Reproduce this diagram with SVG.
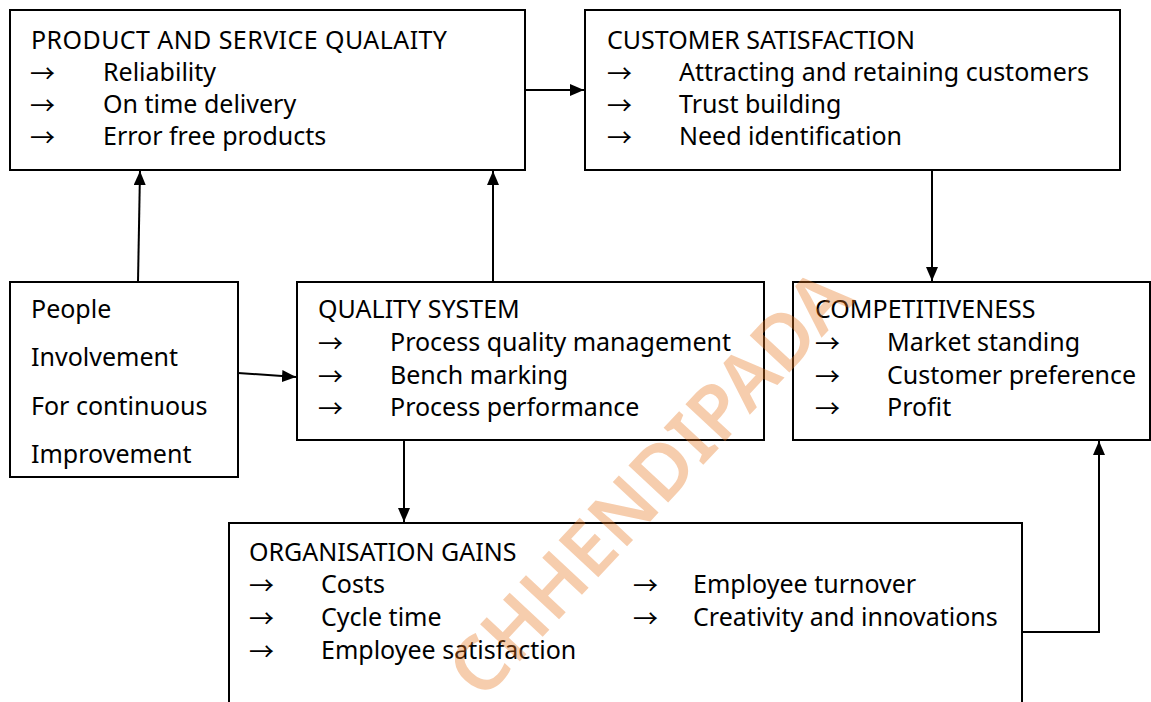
<svg xmlns="http://www.w3.org/2000/svg" width="1151" height="702" viewBox="0 0 1151 702">
<defs>
<marker id="ah" markerUnits="userSpaceOnUse" markerWidth="15" markerHeight="13" refX="14" refY="6" orient="auto">
<path d="M0,0 L14,6 L0,12 z" fill="#000"/>
</marker>
<style>
.box{fill:#fff;stroke:#000;stroke-width:2}
.t{font-family:"Noto Sans","DejaVu Sans",sans-serif;font-size:25px;fill:#000}
.ar{font-family:"Noto Sans CJK JP","DejaVu Sans",sans-serif;font-size:25px;fill:#000}
.con{fill:none;stroke:#000;stroke-width:2;marker-end:url(#ah)}
.wm{font-family:"Noto Sans","DejaVu Sans",sans-serif;font-size:76px;font-weight:600;fill:#E8761E;opacity:0.36}
</style>
</defs>
<rect width="1151" height="702" fill="#fff"/>
<g id="product-quality">
<rect class="box" x="10" y="10" width="515" height="160"/>
<text class="t" x="31" y="49" textLength="416">PRODUCT AND SERVICE QUALAITY</text>
<text class="ar" x="30" y="83">→</text><text class="t" x="103" y="81">Reliability</text>
<text class="ar" x="30" y="115">→</text><text class="t" x="103" y="113">On time delivery</text>
<text class="ar" x="30" y="147">→</text><text class="t" x="103" y="145">Error free products</text>
</g>
<g id="customer-satisfaction">
<rect class="box" x="585" y="10" width="535" height="160"/>
<text class="t" x="607" y="49">CUSTOMER SATISFACTION</text>
<text class="ar" x="607" y="83">→</text><text class="t" x="679" y="81">Attracting and retaining customers</text>
<text class="ar" x="607" y="115">→</text><text class="t" x="679" y="113">Trust building</text>
<text class="ar" x="607" y="147">→</text><text class="t" x="679" y="145">Need identification</text>
</g>
<g id="people">
<rect class="box" x="10" y="282" width="228" height="195"/>
<text class="t" x="31" y="318">People</text>
<text class="t" x="31" y="366">Involvement</text>
<text class="t" x="31" y="415">For continuous</text>
<text class="t" x="31" y="463">Improvement</text>
</g>
<g id="quality-system">
<rect class="box" x="297" y="282" width="467" height="158"/>
<text class="t" x="318" y="318">QUALITY SYSTEM</text>
<text class="ar" x="318" y="353">→</text><text class="t" x="390" y="351">Process quality management</text>
<text class="ar" x="318" y="386">→</text><text class="t" x="390" y="384">Bench marking</text>
<text class="ar" x="318" y="418">→</text><text class="t" x="390" y="416">Process performance</text>
</g>
<g id="competitiveness">
<rect class="box" x="793" y="282" width="357" height="158"/>
<text class="t" x="815" y="318">COMPETITIVENESS</text>
<text class="ar" x="815" y="353">→</text><text class="t" x="887" y="351">Market standing</text>
<text class="ar" x="815" y="386">→</text><text class="t" x="887" y="384">Customer preference</text>
<text class="ar" x="815" y="418">→</text><text class="t" x="887" y="416">Profit</text>
</g>
<g id="organisation-gains">
<rect class="box" x="229" y="523" width="793" height="200"/>
<text class="t" x="249" y="561">ORGANISATION GAINS</text>
<text class="ar" x="249" y="595">→</text><text class="t" x="321" y="593">Costs</text>
<text class="ar" x="249" y="628">→</text><text class="t" x="321" y="626">Cycle time</text>
<text class="ar" x="249" y="661">→</text><text class="t" x="321" y="659">Employee satisfaction</text>
<text class="ar" x="633" y="595">→</text><text class="t" x="693" y="593">Employee turnover</text>
<text class="ar" x="633" y="628">→</text><text class="t" x="693" y="626">Creativity and innovations</text>
</g>
<g id="connectors">
<path class="con" d="M138,282 L140,171"/>
<path class="con" d="M493,282 L493,171"/>
<path class="con" d="M525,90 L584,90"/>
<path class="con" d="M932,170 L932,281"/>
<path class="con" d="M238,373 L296,377"/>
<path class="con" d="M404,440 L404,522"/>
<path class="con" d="M1022,632 L1099,632 L1099,441"/>
</g>
<text class="wm" transform="translate(482,702) rotate(-47)">CHHENDIPADA</text>
</svg>
